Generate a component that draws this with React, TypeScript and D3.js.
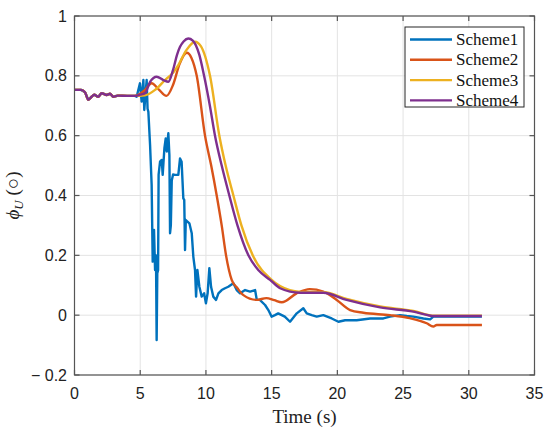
import React from 'react';
import * as d3 from 'd3';

const xTicks = [0, 5, 10, 15, 20, 25, 30, 35];
const yTicks = [-0.2, 0, 0.2, 0.4, 0.6, 0.8, 1];
const yTickLabels = ['\u2212 0.2', '0', '0.2', '0.4', '0.6', '0.8', '1'];
const seriesNames = ['Scheme1', 'Scheme2', 'Scheme3', 'Scheme4'];
const seriesColors = ['#0072BD', '#D95319', '#EDB120', '#7E2F8E'];

// shared initial segment (t = 0 .. 4.6 s)
const initT = [0, 0.5, 0.8, 1.05, 1.3, 1.5, 1.8, 2.07, 2.45, 2.7, 2.95, 3.3, 4.0, 4.6];
const initV = [0.753, 0.753, 0.745, 0.72, 0.73, 0.737, 0.73, 0.742, 0.736, 0.74, 0.73, 0.734, 0.733, 0.733];

const s1T = [4.73, 4.98, 5.11, 5.24, 5.31, 5.49, 5.56, 5.62, 5.75, 5.87, 5.95, 6.05, 6.13, 6.2, 6.25, 6.3, 6.36, 6.4, 6.51, 6.64, 6.71, 6.84, 6.94, 7.02, 7.14, 7.22, 7.27, 7.33, 7.4, 7.5, 7.65, 7.9, 8.03, 8.15, 8.28, 8.35, 8.41, 8.47, 8.74, 8.92, 9.04, 9.17, 9.25, 9.35, 9.5, 9.68, 9.86, 10.0, 10.13, 10.26, 10.39, 10.56, 10.77, 10.95, 11.2, 11.45, 11.7, 12.09, 12.34, 12.6, 12.98, 13.36, 13.74, 13.87, 14.1, 14.5, 14.75, 15.0, 15.25, 15.5, 16.0, 16.4, 16.91, 17.41, 17.67, 18.05, 18.43, 18.93, 19.57, 20.08, 20.59, 21.47, 22.49, 23.5, 24.0, 24.77, 25.28, 25.78, 26.55, 27.06, 27.3, 31];
const s1V = [0.73, 0.775, 0.714, 0.786, 0.686, 0.786, 0.69, 0.68, 0.569, 0.435, 0.179, 0.285, 0.151, 0.2, -0.083, 0.14, 0.15, 0.47, 0.513, 0.519, 0.469, 0.558, 0.591, 0.547, 0.608, 0.535, 0.274, 0.3, 0.45, 0.47, 0.469, 0.469, 0.524, 0.513, 0.39, 0.385, 0.218, 0.318, 0.307, 0.274, 0.196, 0.151, 0.062, 0.151, 0.095, 0.062, 0.073, 0.04, 0.073, 0.157, 0.095, 0.062, 0.051, 0.073, 0.084, 0.09, 0.095, 0.107, 0.084, 0.073, 0.084, 0.079, 0.084, 0.051, 0.051, 0.034, 0.017, -0.005, 0.0, 0.006, -0.005, -0.022, 0.006, 0.023, 0.006, 0.0, -0.005, 0.0, -0.011, -0.022, -0.017, -0.017, -0.011, -0.011, -0.005, 0.0, -0.003, -0.005, -0.011, -0.014, -0.005, -0.005];

const s2T = [5.3, 5.87, 6.4, 7.0, 7.5, 8.0, 8.54, 8.9, 9.3, 9.93, 10.4, 10.82, 11.2, 11.53, 11.96, 12.4, 12.85, 13.86, 14.6, 15.2, 15.77, 16.9, 17.9, 18.93, 19.95, 20.97, 21.98, 24.0, 25.5, 26.8, 27.3, 27.56, 31];
const s2V = [0.75, 0.775, 0.755, 0.733, 0.77, 0.84, 0.877, 0.86, 0.8, 0.6, 0.5, 0.4, 0.3, 0.2, 0.118, 0.09, 0.067, 0.051, 0.057, 0.05, 0.043, 0.073, 0.087, 0.079, 0.051, 0.017, 0.008, 0.0, -0.01, -0.027, -0.038, -0.033, -0.033];

const s3T = [5.37, 6.13, 6.89, 7.5, 7.9, 8.5, 9.17, 9.6, 10.31, 11.02, 11.5, 12.09, 12.7, 13.56, 15.0, 15.64, 17.16, 19.0, 20.7, 23.25, 25.78, 27.4, 31];
const s3V = [0.735, 0.753, 0.786, 0.81, 0.836, 0.885, 0.914, 0.9, 0.8, 0.6, 0.5, 0.4, 0.3, 0.2, 0.118, 0.097, 0.078, 0.077, 0.054, 0.029, 0.014, -0.002, -0.002];

const s4T = [5.0, 5.37, 5.75, 6.25, 6.76, 7.14, 7.5, 7.8, 8.03, 8.3, 8.66, 9.0, 9.5, 9.86, 10.3, 10.69, 11.2, 11.78, 12.4, 13.23, 14.0, 14.88, 15.64, 17.16, 18.93, 20.7, 23.25, 25.78, 27.4, 31];
const s4V = [0.737, 0.742, 0.78, 0.797, 0.786, 0.78, 0.82, 0.87, 0.897, 0.915, 0.925, 0.918, 0.87, 0.8, 0.7, 0.6, 0.5, 0.4, 0.3, 0.2, 0.15, 0.118, 0.09, 0.075, 0.075, 0.051, 0.026, 0.012, -0.003, -0.003];

const W = 550, H = 433;
const L = 74.5, R = 534.5, T = 16, B = 375;

export default function App() {
  const x = d3.scaleLinear().domain([0, 35]).range([L, R]);
  const y = d3.scaleLinear().domain([-0.2, 1]).range([B, T]);

  const build = (ts: number[], vs: number[]) =>
    initT.map((t, i) => [t, initV[i]] as [number, number]).concat(ts.map((t, i) => [t, vs[i]] as [number, number]));

  const data = [build(s1T, s1V), build(s2T, s2V), build(s3T, s3V), build(s4T, s4V)];
  const linear = d3.line<[number, number]>().x(d => x(d[0])).y(d => y(d[1]));
  const smooth = d3.line<[number, number]>().x(d => x(d[0])).y(d => y(d[1])).curve(d3.curveMonotoneX);

  const tick = 5;
  return (
    <svg width={W} height={H} style={{ position: 'absolute', left: 0, top: 0, background: '#fff' }}>
      <rect x={0} y={0} width={W} height={H} fill="#fff" />
      {xTicks.map(t => (
        <line key={'gx' + t} x1={x(t)} x2={x(t)} y1={T} y2={B} stroke="#e3e3e3" strokeWidth={1} />
      ))}
      {yTicks.map(t => (
        <line key={'gy' + t} x1={L} x2={R} y1={y(t)} y2={y(t)} stroke="#e3e3e3" strokeWidth={1} />
      ))}
      {data.map((d, i) => (
        <path key={i} d={(i === 0 ? linear(d) : smooth(d)) || ''} fill="none" stroke={seriesColors[i]}
          strokeWidth={2.4} strokeLinejoin="round" />
      ))}
      <rect x={L} y={T} width={R - L} height={B - T} fill="none" stroke="#555" strokeWidth={1.2} />
      {xTicks.map(t => (
        <g key={'tx' + t}>
          <line x1={x(t)} x2={x(t)} y1={B} y2={B - tick} stroke="#555" strokeWidth={1.2} />
          <line x1={x(t)} x2={x(t)} y1={T} y2={T + tick} stroke="#555" strokeWidth={1.2} />
          <text x={x(t)} y={399} textAnchor="middle" fontFamily="Liberation Sans, Arial, sans-serif" fontSize={16} fill="#222">{t}</text>
        </g>
      ))}
      {yTicks.map((t, i) => (
        <g key={'ty' + t}>
          <line x1={L} x2={L + tick} y1={y(t)} y2={y(t)} stroke="#555" strokeWidth={1.2} />
          <line x1={R} x2={R - tick} y1={y(t)} y2={y(t)} stroke="#555" strokeWidth={1.2} />
          <text x={67} y={y(t)} dy="0.35em" textAnchor="end" fontFamily="Liberation Sans, Arial, sans-serif" fontSize={16} fill="#222">{yTickLabels[i]}</text>
        </g>
      ))}
      <text x={(L + R) / 2} y={423} textAnchor="middle" fontFamily="Liberation Serif, serif" fontSize={19} fill="#222">Time (s)</text>
      <text transform={`translate(19,${(T + B) / 2}) rotate(-90)`} textAnchor="middle" fontFamily="Liberation Serif, serif" fontSize={19} fill="#222">
        <tspan fontStyle="italic">ϕ</tspan>
        <tspan fontStyle="italic" fontSize={13} dy={4}>U</tspan>
        <tspan dy={-4}> (○)</tspan>
      </text>
      <rect x={405} y={27} width={119} height={80} fill="#fff" stroke="#262626" strokeWidth={1} />
      {seriesNames.map((n, i) => {
        const yy = 39.5 + i * 20.3;
        return (
          <g key={n}>
            <line x1={410} x2={452} y1={yy} y2={yy} stroke={seriesColors[i]} strokeWidth={2.4} />
            <text x={456} y={yy} dy="0.33em" fontFamily="Liberation Serif, serif" fontSize={17} fill="#111">{n}</text>
          </g>
        );
      })}
    </svg>
  );
}
